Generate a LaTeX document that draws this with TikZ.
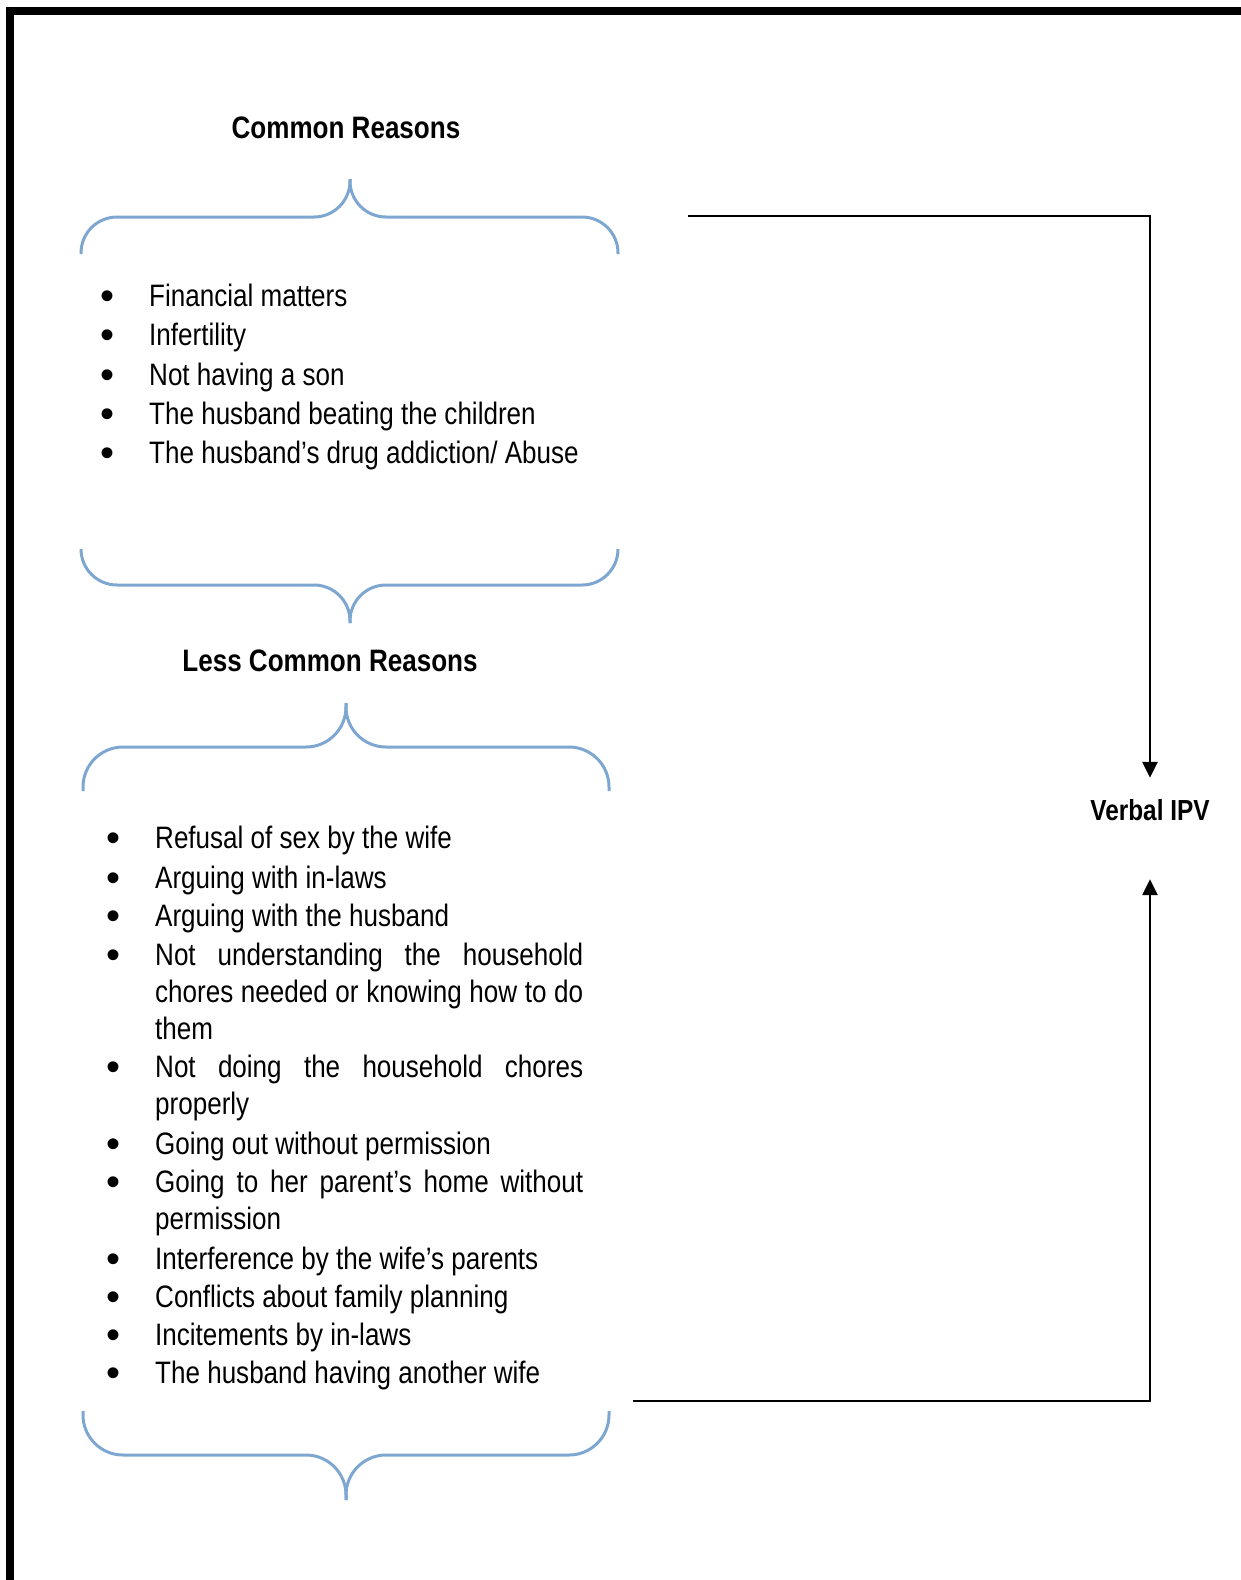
\documentclass[tikz,border=0pt]{standalone}
\usepackage{fontspec}
\setmainfont{Liberation Sans}[FakeStretch=0.84]
\newfontfamily\bulletfont{Liberation Sans}
\usetikzlibrary{arrows.meta}
\definecolor{bracecol}{RGB}{125,167,208}
\tikzset{
  itemtext/.style={anchor=base west, inner sep=0pt, font=\fontsize{31pt}{37pt}\selectfont},
  bul/.style={anchor=base, inner sep=0pt, font=\bulletfont\fontsize{40pt}{37pt}\selectfont},
  title/.style={anchor=base, inner sep=0pt, font=\bfseries\fontsize{31pt}{37pt}\selectfont},
  bracepath/.style={draw=bracecol, line width=3pt},
  conn/.style={draw=black, line width=2.8pt, -{Triangle[length=16pt,width=15pt]}},
}
\begin{document}
\begin{tikzpicture}[x=1pt,y=-1pt]
\useasboundingbox (0,0) rectangle (1240,1580);
% frame (left and top)
\draw[line width=8pt] (10,1620) -- (10,11) -- (1260,11);

% titles
\node[title] (t1) at (346,138) {Common Reasons};
\node[title] (t2) at (330,671) {Less Common Reasons};

% braces
\draw[bracepath, rounded corners=36pt] (81,254) -- (81,217) -- (350,217) -- (350,179);
\draw[bracepath, rounded corners=36pt] (618,254) -- (618,217) -- (350,217) -- (350,179);
\draw[bracepath, rounded corners=36pt] (81,549) -- (81,585) -- (350,585) -- (350,623);
\draw[bracepath, rounded corners=36pt] (618,549) -- (618,585) -- (350,585) -- (350,623);
\draw[bracepath, rounded corners=40pt] (83,791) -- (83,747) -- (346,747) -- (346,703);
\draw[bracepath, rounded corners=40pt] (609,791) -- (609,747) -- (346,747) -- (346,703);
\draw[bracepath, rounded corners=40pt] (83,1411) -- (83,1455) -- (346,1455) -- (346,1500);
\draw[bracepath, rounded corners=40pt] (609,1411) -- (609,1455) -- (346,1455) -- (346,1500);

% upper list
\foreach \y/\n in {306/1,345/2,385/3,424/4,463/5} {
  \node[bul] (ub\n) at (108,\y+3) {•};
}
\node[itemtext] (u1) at (149,306) {Financial matters};
\node[itemtext] (u2) at (149,345) {Infertility};
\node[itemtext] (u3) at (149,385) {Not having a son};
\node[itemtext] (u4) at (149,424) {The husband beating the children};
\node[itemtext] (u5) at (149,463) {The husband’s drug addiction/ Abuse};

% lower list
\foreach \y/\n in {848/1,888/2,926/3,965/4,1077/5,1154/6,1192/7,1269/8,1307/9,1345/10,1383/11} {
  \node[bul] (lb\n) at (114,\y+3) {•};
}
\node[itemtext] (l1) at (155,848) {Refusal of sex by the wife};
\node[itemtext] (l2) at (155,888) {Arguing with in-laws};
\node[itemtext] (l3) at (155,926) {Arguing with the husband};
\node[itemtext] (l4) at (155,965) {\parbox[t]{428pt}{\baselineskip=37pt Not understanding the household\linebreak chores needed or knowing how to do\linebreak them}};
\node[itemtext] (l5) at (155,1077) {\parbox[t]{428pt}{\baselineskip=37pt Not doing the household chores\linebreak properly}};
\node[itemtext] (l6) at (155,1154) {Going out without permission};
\node[itemtext] (l7) at (155,1192) {\parbox[t]{428pt}{\baselineskip=37pt Going to her parent’s home without\linebreak permission}};
\node[itemtext] (l8) at (155,1269) {Interference by the wife’s parents};
\node[itemtext] (l9) at (155,1307) {Conflicts about family planning};
\node[itemtext] (l10) at (155,1345) {Incitements by in-laws};
\node[itemtext] (l11) at (155,1383) {The husband having another wife};

% target
\node[font=\bfseries\fontsize{29pt}{37pt}\selectfont, inner sep=0pt, minimum height=64pt] (vipv) at (1150,810) {Verbal IPV};

% connectors
\coordinate (c1) at (688,216);
\coordinate (c2) at (633,1401);
\draw[conn] (c1) -| (vipv.north);
\draw[conn] (c2) -| ([yshift=-37pt]vipv.south);
\end{tikzpicture}
\end{document}
